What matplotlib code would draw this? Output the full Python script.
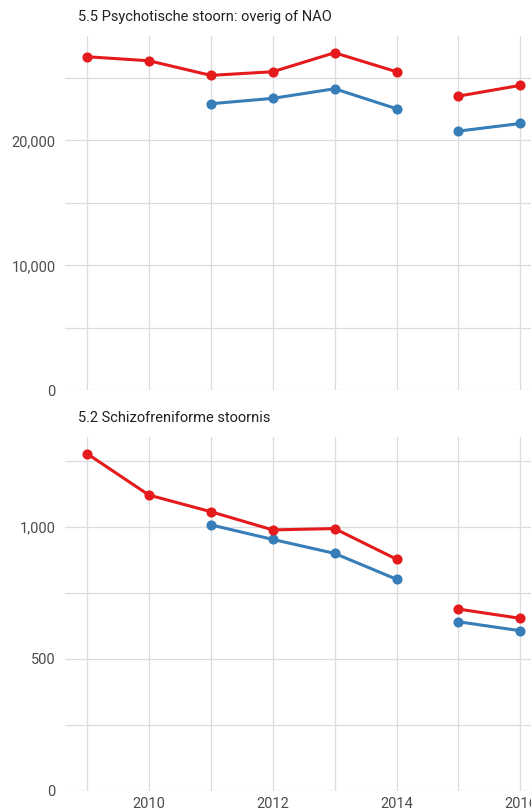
import matplotlib
matplotlib.use("Agg")
import matplotlib.pyplot as plt
import numpy as np

years = [2009, 2010, 2011, 2012, 2013, 2014, 2015, 2016]
period = [1, 1, 1, 1, 1, 1, 2, 2]

titles = ["5.5 Psychotische stoorn: overig of NAO", "5.2 Schizofreniforme stoornis"]

psy_red = [26690, 26370, 25200, 25490, 27010, 25490, 23540, 24400]
psy_blue = [np.nan, np.nan, 22930, 23360, 24130, 22530, 20740, 21350]

schizo_red = [1278, 1121, 1058, 989, 994, 878, 689, 654]
schizo_blue = [np.nan, np.nan, 1008, 953, 900, 802, 641, 607]

panels = [
    (titles[0], psy_red, psy_blue, [0, 10000, 20000], [5000, 15000, 25000], 28350),
    (titles[1], schizo_red, schizo_blue, [0, 500, 1000], [250, 750, 1250], 1342),
]

RED = "#E41A1C"
BLUE = "#377EB8"
GRID = "#dcdcdc"
TXT = "#4d4d4d"

plt.rcParams['font.family'] = ['Roboto', 'DejaVu Sans']

W, H = 531, 811
fig = plt.figure(figsize=(W / 100, H / 100), dpi=100)

left_px, right_px = 65.3, 542.0
tops = [36.0, 436.7]
bottoms = [390.3, 791.0]

for i, (title, red, blue, majors, minors, ytop) in enumerate(panels):
    ax = fig.add_axes([left_px / W, 1 - bottoms[i] / H, (right_px - left_px) / W,
                       (bottoms[i] - tops[i]) / H])
    ax.set_xlim(2008.65, 2016.35)
    ax.set_ylim(0, ytop)
    for s in ax.spines.values():
        s.set_visible(False)
    ax.set_xticks([2010, 2012, 2014, 2016])
    ax.set_xticks([2009, 2011, 2013, 2015], minor=True)
    ax.set_yticks(majors)
    ax.set_yticks(minors, minor=True)
    ax.set_yticklabels([f"{v:,}" for v in majors])
    ax.grid(True, which="both", color=GRID, linewidth=0.9)
    ax.set_axisbelow(True)
    ax.tick_params(which="both", length=0, colors=TXT, labelsize=10.5, pad=7)
    ax.tick_params(axis="x", pad=4)
    if i == 0:
        ax.tick_params(axis="x", labelbottom=False)

    yrs = np.array(years)
    per = np.array(period)
    for series, col in ((blue, BLUE), (red, RED)):
        vals = np.array(series, dtype=float)
        for p in sorted(set(period)):
            m = per == p
            ax.plot(yrs[m], vals[m], color=col, linewidth=2.2, marker="o",
                    markersize=7.3, markeredgewidth=0, clip_on=False, zorder=3)

    fig.text(78 / W, 1 - (tops[i] - 19) / H, title, fontsize=10.5, color="#222222",
             ha="left", va="center")

fig.savefig("out.png", dpi=100)
